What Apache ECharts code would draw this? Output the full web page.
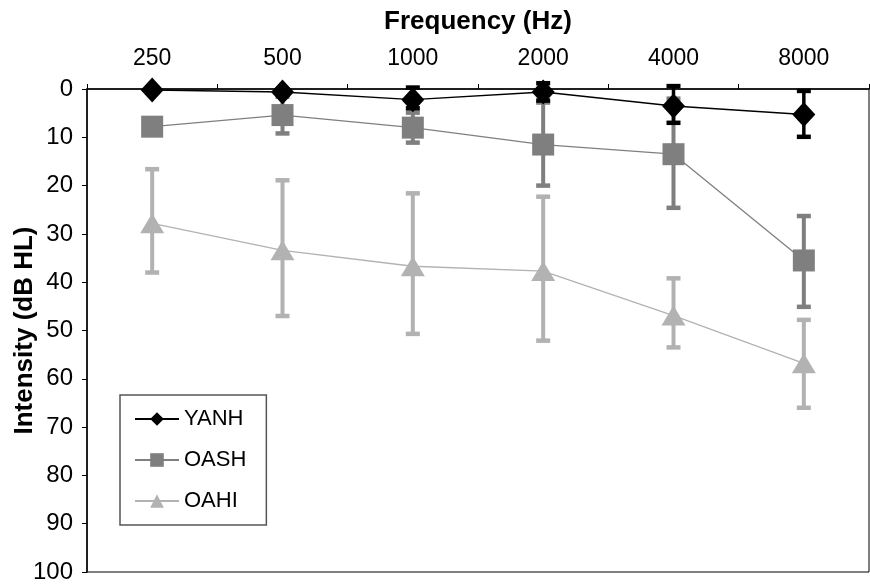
<!DOCTYPE html>
<html>
<head>
<meta charset="utf-8">
<script src="https://cdn.jsdelivr.net/npm/echarts@6/dist/echarts.min.js"></script>
<style>
html,body{margin:0;padding:0;background:#fff;}
#chart{width:870px;height:584px;}
</style>
</head>
<body>
<div id="chart"></div>
<script>
// ---- data ----
const categories = ['250', '500', '1000', '2000', '4000', '8000'];
const yTicks = [0, 10, 20, 30, 40, 50, 60, 70, 80, 90, 100];

const yanhMean = [0.2, 0.6, 2.2, 0.6, 3.5, 5.3];
const yanhLow  = [-0.3, 0.1, -0.3, -1.2, -0.6, 0.4];
const yanhHigh = [0.7, 1.1, 4.0, 2.4, 7.0, 9.9];

const oashMean = [7.8, 5.4, 8.0, 11.5, 13.5, 35.5];
const oashLow  = [7.0, 1.6, 4.9, 2.8, 2.0, 26.3];
const oashHigh = [8.6, 9.2, 11.1, 20.0, 24.6, 45.1];

const oahiMean = [27.8, 33.4, 36.7, 37.7, 46.9, 56.8];
const oahiLow  = [16.6, 18.9, 21.6, 22.3, 39.2, 47.8];
const oahiHigh = [38.0, 47.0, 50.7, 52.1, 53.5, 66.0];

const seriesNames = ['YANH', 'OASH', 'OAHI'];

// ---- chart ----
const FONT = '"Liberation Sans", Arial, Helvetica, sans-serif';
const C_YANH = '#000000', C_OASH = '#7f7f7f', C_OAHI = '#b2b2b2';

function errData(low, high) {
  return low.map((l, i) => [i, l, high[i]]);
}
function errRender(color, barW, capW, capH) {
  return function (params, api) {
    const x = api.coord([api.value(0), 0])[0];
    const y1 = api.coord([api.value(0), api.value(1)])[1];
    const y2 = api.coord([api.value(0), api.value(2)])[1];
    return {
      type: 'group',
      children: [
        { type: 'rect', shape: { x: x - barW / 2, y: Math.min(y1, y2), width: barW, height: Math.abs(y2 - y1) }, style: { fill: color } },
        { type: 'rect', shape: { x: x - capW / 2, y: y1 - capH / 2, width: capW, height: capH }, style: { fill: color } },
        { type: 'rect', shape: { x: x - capW / 2, y: y2 - capH / 2, width: capW, height: capH }, style: { fill: color } }
      ]
    };
  };
}

const chart = echarts.init(document.getElementById('chart'), null, { renderer: 'canvas' });
chart.setOption({
  animation: false,
  backgroundColor: '#ffffff',
  textStyle: { fontFamily: FONT },
  grid: {
    left: 87, right: 1, top: 89, bottom: 12,
    containLabel: false, outerBoundsMode: 'none',
    show: true, borderColor: '#000', borderWidth: 1, backgroundColor: 'transparent'
  },
  legend: {
    data: seriesNames,
    orient: 'vertical',
    left: 120, top: 395,
    itemWidth: 44, itemHeight: 17, itemGap: 19,
    padding: [13, 20, 13, 14],
    borderColor: '#555', borderWidth: 1.5,
    textStyle: { fontFamily: FONT, fontSize: 22, color: '#000' },
    selectedMode: false
  },
  xAxis: {
    type: 'category',
    position: 'top',
    data: categories,
    boundaryGap: true,
    name: 'Frequency (Hz)',
    nameLocation: 'middle',
    nameGap: 54,
    nameMoveOverlap: false,
    nameTextStyle: { fontFamily: FONT, fontSize: 26, fontWeight: 'bold', color: '#000' },
    axisLine: { show: true, lineStyle: { color: '#000', width: 1.5 } },
    axisTick: { show: true, length: 5, lineStyle: { color: '#000' } },
    axisLabel: { fontFamily: FONT, fontSize: 23, color: '#000', margin: 19 },
    splitLine: { show: false }
  },
  yAxis: {
    type: 'value',
    inverse: true,
    min: yTicks[0], max: yTicks[yTicks.length - 1], interval: 10,
    name: 'Intensity (dB HL)',
    nameLocation: 'middle',
    nameRotate: 90,
    nameGap: 49,
    nameMoveOverlap: false,
    nameTextStyle: { fontFamily: FONT, fontSize: 26, fontWeight: 'bold', color: '#000' },
    axisLine: { show: true, lineStyle: { color: '#000', width: 1.5 } },
    axisTick: { show: true, length: 5, lineStyle: { color: '#000' } },
    axisLabel: { fontFamily: FONT, fontSize: 24, color: '#000', margin: 14 },
    splitLine: { show: false }
  },
  series: [
    {
      type: 'custom', name: 'OAHI_err', z: 2, silent: true, clip: false,
      renderItem: errRender(C_OAHI, 4, 14, 4.5),
      encode: { x: 0, y: [1, 2] },
      data: errData(oahiLow, oahiHigh)
    },
    {
      type: 'line', name: 'OAHI', z: 3, data: oahiMean,
      symbol: 'triangle', symbolSize: [24, 20],
      itemStyle: { color: C_OAHI },
      lineStyle: { color: C_OAHI, width: 1.3 }
    },
    {
      type: 'custom', name: 'OASH_err', z: 4, silent: true, clip: false,
      renderItem: errRender(C_OASH, 4, 14, 4.5),
      encode: { x: 0, y: [1, 2] },
      data: errData(oashLow, oashHigh)
    },
    {
      type: 'line', name: 'OASH', z: 5, data: oashMean,
      symbol: 'rect', symbolSize: [22, 22],
      itemStyle: { color: C_OASH },
      lineStyle: { color: C_OASH, width: 1.3 }
    },
    {
      type: 'custom', name: 'YANH_err', z: 6, silent: true, clip: false,
      renderItem: errRender(C_YANH, 3.5, 14, 4.5),
      encode: { x: 0, y: [1, 2] },
      data: errData(yanhLow, yanhHigh)
    },
    {
      type: 'line', name: 'YANH', z: 7, data: yanhMean,
      symbol: 'diamond', symbolSize: [23, 25],
      itemStyle: { color: C_YANH },
      lineStyle: { color: C_YANH, width: 1.5 }
    }
  ]
});
</script>
</body>
</html>
